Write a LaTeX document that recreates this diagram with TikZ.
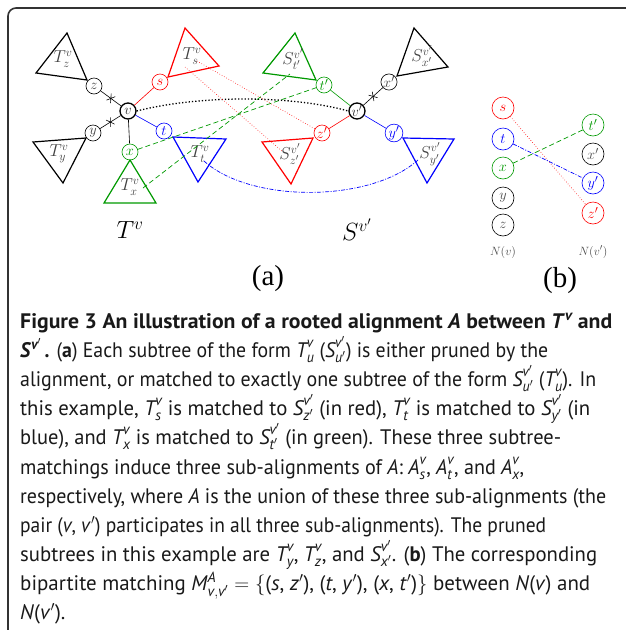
\documentclass[tikz,border=0pt]{standalone}
\usepackage{amsmath}
\usepackage{graphicx}
\usepackage{fontspec}
\newfontfamily\capfont{PT Sans}
\newfontfamily\labfont{Liberation Serif}
\usetikzlibrary{decorations.markings}
\definecolor{gr}{rgb}{0,0.6,0}
\newcommand\ci[1]{\textit{#1}}
\newcommand\Tsb[1]{$\ci{T}^{\ci{v}}_{\ci{#1}}$}
\newcommand\Ssb[1]{$\ci{S}^{\ci{v}'}_{\ci{#1}'}$}
\newcommand\Asb[1]{$\ci{A}^{\ci{v}}_{\ci{#1}}$}
\tikzset{
  nd/.style={circle,draw,inner sep=0pt,minimum size=16pt,line width=0.6pt,text=black!75,font=\fontsize{15.5}{15.5}\selectfont},
  rootnd/.style={nd,line width=1.3pt,text=black!80},
  bn/.style={circle,draw,inner sep=0pt,minimum size=22pt,line width=0.6pt,text=black!70,font=\fontsize{15}{15}\selectfont},
  tri/.style={line width=1.2pt,line join=miter},
  tlab/.style={text=black!75,font=\fontsize{18.5}{18.5}\selectfont,inner sep=0pt},
  edge/.style={line width=0.6pt},
  cut/.style={postaction={decorate},decoration={markings,mark=at position 0.5 with {\draw[line width=0.6pt,black] (-2.5pt,-4pt)--(2.5pt,4pt) (2.5pt,-4pt)--(-2.5pt,4pt);}}},
  rdot/.style={red,line width=0.6pt,dotted},
  gdash/.style={gr,line width=0.7pt,dash pattern=on 5pt off 3pt},
  bdd/.style={blue,line width=0.7pt,dash pattern=on 4pt off 1.5pt on 1pt off 1.5pt},
  capl/.style={anchor=base west,inner sep=0pt,text=black!90}
}
\newcommand\capsz{\capfont\fontsize{21}{21}\selectfont}
\begin{document}
\begin{tikzpicture}[x=1pt,y=-1pt]
\useasboundingbox (0,0) rectangle (626,630);
% frame
\draw[black!80,line width=1.6pt,rounded corners=8pt] (8,630) -- (8,8) -- (626,8);

% ---------- T side ----------
\node[rootnd] (v) at (128,111) {$v$};
\node[nd] (z) at (94,86) {$z$};
\node[nd] (y) at (93,133) {$y$};
\node[nd,red] (s) at (160,82) {$s$};
\node[nd,blue] (t) at (164,131) {$t$};
\node[nd,gr] (x) at (130,152) {$x$};

\draw[edge,cut] (v) -- (z);
\draw[edge,cut] (v) -- (y);
\draw[edge] (v) -- (x);
\draw[edge,red] (v) -- (s);
\draw[edge,blue] (v) -- (t);

\draw[tri] (67,33) -- (36,73) -- (87,80) -- cycle;
\draw[tri] (33,142) -- (86,138) -- (63,183) -- cycle;
\draw[tri,gr] (130,160) -- (104,203) -- (156,203) -- cycle;
\draw[tri,blue] (173,137) -- (226,139) -- (198,182) -- cycle;
\draw[tri,red] (185,28) -- (219,66) -- (168,77) -- cycle;

\node[tlab] (Tz) at (63,59) {$T^v_z$};
\node[tlab] (Ty) at (59,154) {$T^v_y$};
\node[tlab] (Tx) at (130,187) {$T^v_x$};
\node[tlab] (Tt) at (200,154) {$T^v_t$};
\node[tlab] (Ts) at (192,56) {$T^v_s$};

% ---------- S side ----------
\node[rootnd] (vp) at (357,111) {$v'$};
\node[nd,gr] (tp) at (324,85) {$t'$};
\node[nd] (xp) at (389,82) {$x'$};
\node[nd,red] (zp) at (322,133) {$z'$};
\node[nd,blue] (yp) at (394,133) {$y'$};

\draw[edge,gr] (vp) -- (tp);
\draw[edge,red] (vp) -- (zp);
\draw[edge,blue] (vp) -- (yp);
\draw[edge,cut] (vp) -- (xp);

\draw[tri,gr] (295,33) -- (263,73) -- (316,80) -- cycle;
\draw[tri] (414,28) -- (448,67) -- (397,76) -- cycle;
\draw[tri,red] (262,142) -- (313,138) -- (291,184) -- cycle;
\draw[tri,blue] (403,138) -- (454,139) -- (427,183) -- cycle;

\node[tlab] (St) at (293,59) {$S^{v'}_{t'}$};
\node[tlab] (Sx) at (422,56) {$S^{v'}_{x'}$};
\node[tlab] (Sz) at (290,154) {$S^{v'}_{z'}$};
\node[tlab] (Sy) at (430,154) {$S^{v'}_{y'}$};

% ---------- matching connectors ----------
\draw[black,line width=1.3pt,dotted] (v.east) .. controls (200,95) and (290,95) .. (vp.west);
\coordinate (ra) at (197,61);
\coordinate (rb) at (185,67);
\coordinate (rbe) at (283,152);
\draw[rdot] (ra) -- (zp);
\draw[rdot] (rb) -- (rbe);
\coordinate (gx) at (143,188);
\coordinate (gs) at (290,74);
\draw[gdash] (x) -- (tp);
\draw[gdash] (gx) -- (gs);
\coordinate (bt1) at (204,161);
\coordinate (by1) at (418,160);
\draw[bdd] (bt1) .. controls (250,203) and (370,203) .. (by1);

\node[font=\fontsize{24}{24}\selectfont] (TV) at (130,230) {$T^v$};
\node[font=\fontsize{24}{24}\selectfont] (SV) at (357,230) {$S^{v'}$};
\node[font=\labfont\fontsize{29}{29}\selectfont] (la) at (268,279) {(a)};

% ---------- panel (b) ----------
\node[bn,red] (bs) at (503,108) {$s$};
\node[bn,blue] (bt) at (503,139) {$t$};
\node[bn,gr] (bx) at (503,168) {$x$};
\node[bn] (by) at (503,198) {$y$};
\node[bn] (bz) at (503,225) {$z$};
\node[bn,gr] (btp) at (593,125) {$t'$};
\node[bn] (bxp) at (593,154) {$x'$};
\node[bn,blue] (byp) at (593,183) {$y'$};
\node[bn,red] (bzp) at (593,213) {$z'$};
\draw[rdot] (bs) -- (bzp);
\draw[bdd] (bt) -- (byp);
\draw[gdash] (bx) -- (btp);
\node[text=black!70,font=\fontsize{13}{13}\selectfont] (Nv) at (503,252) {$N(v)$};
\node[text=black!70,font=\fontsize{13}{13}\selectfont] (Nvp) at (593,252) {$N(v')$};
\node[font=\labfont\fontsize{29}{29}\selectfont] (lb) at (560,281) {(b)};

% ---------- caption ----------
\node[capl] (c1) at (20,328) {\resizebox{592pt}{\height}{\capsz\bfseries Figure 3 An illustration of a rooted alignment \ci{A} between \ci{T}$^{\ci{v}}$ and}};
\node[capl] (c2) at (20,357) {\resizebox{528pt}{\height}{\capsz{\bfseries\ci{S}$^{\ci{v}'}$\,.} ({\bfseries a}) Each subtree of the form \Tsb{u} (\Ssb{u}) is either pruned by the}};
\node[capl] (c3) at (20,386) {\resizebox{576pt}{\height}{\capsz alignment, or matched to exactly one subtree of the form \Ssb{u} (\Tsb{u}). In}};
\node[capl] (c4) at (20,415) {\resizebox{570pt}{\height}{\capsz this example, \Tsb{s} is matched to \Ssb{z} (in red), \Tsb{t} is matched to \Ssb{y} (in}};
\node[capl] (c5) at (20,444) {\resizebox{541pt}{\height}{\capsz blue), and \Tsb{x} is matched to \Ssb{t} (in green). These three subtree-}};
\node[capl] (c6) at (20,474) {\resizebox{504pt}{\height}{\capsz matchings induce three sub-alignments of \ci{A}: \Asb{s}, \Asb{t}, and \Asb{x},}};
\node[capl] (c7) at (20,503) {\resizebox{586pt}{\height}{\capsz respectively, where \ci{A} is the union of these three sub-alignments (the}};
\node[capl] (c8) at (20,532) {\resizebox{526pt}{\height}{\capsz pair (\ci{v}, \ci{v}$'$) participates in all three sub-alignments). The pruned}};
\node[capl] (c9) at (20,561) {\resizebox{577pt}{\height}{\capsz subtrees in this example are \Tsb{y}, \Tsb{z}, and \Ssb{x}. ({\bfseries b}) The corresponding}};
\node[capl] (c10) at (20,590) {\resizebox{570pt}{\height}{\capsz bipartite matching \ci{M}$^{\ci{A}}_{\ci{v},\ci{v}'}=\{$(\ci{s}, \ci{z}$'$), (\ci{t}, \ci{y}$'$), (\ci{x}, \ci{t}$'$)$\}$ between \ci{N}(\ci{v}) and}};
\node[capl] (c11) at (20,619) {\capsz\ci{N}(\ci{v}$'$).};
\end{tikzpicture}
\end{document}
